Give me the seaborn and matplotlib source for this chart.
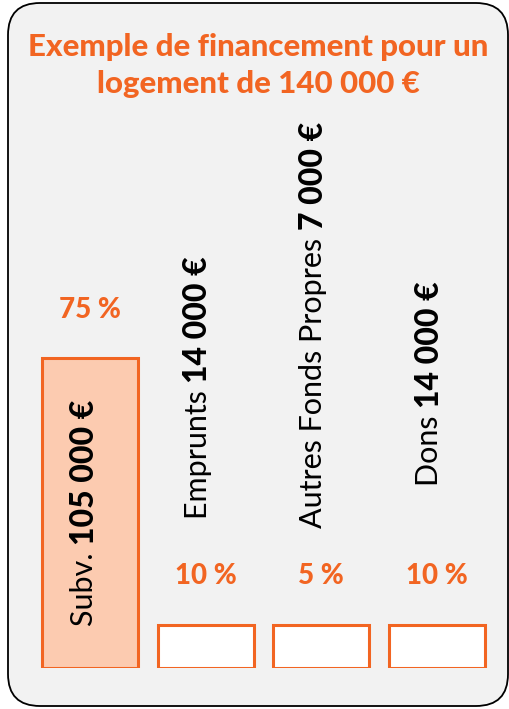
import numpy as np
import matplotlib
matplotlib.use("Agg")
import matplotlib.pyplot as plt
from matplotlib.patches import FancyBboxPatch
import seaborn as sns

categories = ["Subv.", "Emprunts", "Autres Fonds Propres", "Dons"]
amounts = ["105 000 €", "14 000 €", "7 000 €", "14 000 €"]
shares = [75, 10, 5, 10]
pct_labels = ["75 %", "10 %", "5 %", "10 %"]
title_lines = ["Exemple de financement pour un", "logement de 140 000 €"]

ORANGE = "#f26522"
PEACH = "#fccbb0"
PANEL = "#f2f2f2"
FONT = "Lato"

# small shares are drawn as boxes of a minimum visible height
shown = np.maximum(np.array(shares, dtype=float), 10.5)
# where the rotated captions start above the small boxes (axis units)
caption_floor = [None, 36, 34, 44]

sns.set_theme(style="white")
plt.rcParams["font.family"] = [FONT, "DejaVu Sans"]

W, H = 510, 709
fig = plt.figure(figsize=(W / 100, H / 100), dpi=100)
fig.patch.set_facecolor("white")

# rounded grey panel with black outline
panel = FancyBboxPatch((8 / 100, 3 / 100), 500 / 100, 703 / 100,
                       boxstyle="round,pad=0,rounding_size=0.32",
                       transform=fig.dpi_scale_trans, facecolor=PANEL,
                       edgecolor="black", linewidth=1.3, zorder=-5)
fig.patches.append(panel)

for k, line in enumerate(title_lines):
    fig.text(258 / W, 1 - (47 + 37 * k) / H, line, ha="center", va="center",
             color=ORANGE, fontsize=22.5, fontweight="black")

ax = fig.add_axes([32 / W, 41 / H, 463 / W, 413 / H])
ax.set_facecolor("none")
ax.set_zorder(5)
sns.barplot(x=categories, y=shown, hue=categories,
            palette=[PEACH, "white", "white", "white"], legend=False,
            saturation=1, width=0.83, edgecolor=ORANGE, linewidth=2.2, ax=ax)
ax.set_xlim(-0.5, 3.5)
ax.set_ylim(0, 100)
ax.axis("off")

fig.canvas.draw()
r = fig.canvas.get_renderer()
for i, (cat, amt, pct, h) in enumerate(zip(categories, amounts, pct_labels, shown)):
    ax.annotate(pct, (i, h), xytext=(0, 35), textcoords="offset points",
                ha="center", va="center", color=ORANGE, fontsize=20,
                fontweight="black")
    y0 = h / 2 if i == 0 else caption_floor[i]
    base = ax.text(i - (0.05 if i == 0 else 0.07), y0, cat + " ", rotation=90,
                   ha="center", va="bottom", fontsize=22, fontweight="normal",
                   color="black")
    bold = ax.annotate(amt, xy=(0.5, 1), xycoords=base, rotation=90,
                       ha="center", va="bottom", fontsize=23,
                       fontweight="black", color="black")
    if i == 0:
        # centre regular + bold parts together inside the big bar
        total = base.get_window_extent(r).height + bold.get_window_extent(r).height
        inv = ax.transData.inverted()
        dy = inv.transform((0, total / 2))[1] - inv.transform((0, 0))[1]
        base.set_y(h / 2 - dy)

fig.savefig("out.png", dpi=100, facecolor="white")
